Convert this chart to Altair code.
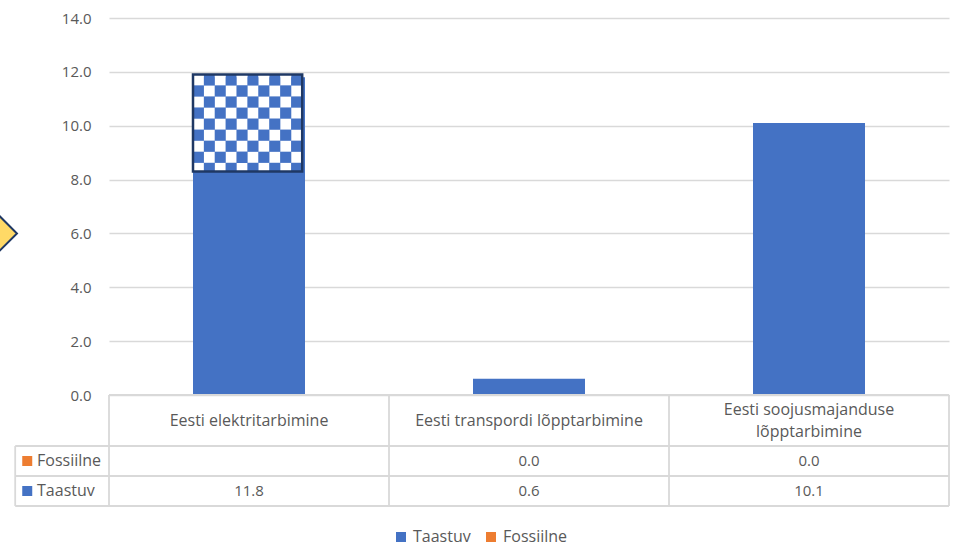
import altair as alt
import pandas as pd

# ---- data -------------------------------------------------------------
categories = [
    "Eesti elektritarbimine",
    "Eesti transpordi lõpptarbimine",
    "Eesti soojusmajanduse lõpptarbimine",
]
header_lines = [
    ["Eesti elektritarbimine"],
    ["Eesti transpordi lõpptarbimine"],
    ["Eesti soojusmajanduse", "lõpptarbimine"],
]
series = ["Taastuv", "Fossiilne"]
taastuv = [11.8, 0.6, 10.1]
fossiilne = [None, 0.0, 0.0]
y_ticks = [0, 2, 4, 6, 8, 10, 12, 14]

# checkered highlight on top of the electricity bar
pattern_low, pattern_high = 8.3, 11.9

# ---- style ------------------------------------------------------------
BLUE = "#4472C4"
ORANGE = "#ED7D31"
NAVY = "#1F3864"
GRID = "#D9D9D9"
TEXT = "#595959"
FONT = "Open Sans"
FS_TXT = 16     # words
FS_NUM = 15     # numbers

PLOT_W = 840          # three category columns
BAR_H = 377           # bar area height
TABLE_H = 111         # data table height
ROW_PX = 30           # one table row, pixels
HEADER_ROWS = 1.7     # header row height in table-row units
TABLE_ROWS = HEADER_ROWS + 2
LINE_STEP = 22 / ROW_PX   # spacing of wrapped header lines, row units

xs = alt.Scale(domain=[0, 3], nice=False, zero=False)
ys = alt.Scale(domain=[0, 14], range=[BAR_H, 0], nice=False, zero=False)
ts = alt.Scale(domain=[0, TABLE_ROWS], range=[BAR_H, BAR_H + TABLE_H], nice=False, zero=False)

# ---- bars -------------------------------------------------------------
bar_rows = []
for i, cat in enumerate(categories):
    t = taastuv[i]
    f = fossiilne[i]
    bar_rows.append(dict(kategooria=cat, sari="Taastuv", x0=i + 0.3, x1=i + 0.7, y0=0.0, y1=t))
    if f is not None:
        bar_rows.append(dict(kategooria=cat, sari="Fossiilne", x0=i + 0.3, x1=i + 0.7, y0=t, y1=t + f))
bars_df = pd.DataFrame(bar_rows)

bars = alt.Chart(bars_df).mark_rect().encode(
    x=alt.X("x0:Q", scale=xs, axis=None),
    x2="x1:Q",
    y=alt.Y(
        "y0:Q",
        scale=ys,
        axis=alt.Axis(
            values=y_ticks, format=".1f", title=None, grid=True, gridColor=GRID,
            gridWidth=1.5, domain=False, ticks=False, labelPadding=18,
            labelFont=FONT, labelFontSize=FS_NUM, labelColor=TEXT,
        ),
    ),
    y2="y1:Q",
    color=alt.Color(
        "sari:N",
        scale=alt.Scale(domain=series, range=[BLUE, ORANGE]),
        legend=alt.Legend(
            title=None, orient="none", direction="horizontal",
            legendX=284, legendY=511, symbolType="square", symbolSize=100,
            symbolStrokeWidth=0, labelFont=FONT, labelFontSize=FS_TXT,
            labelColor=TEXT, columnPadding=12, labelOffset=4, padding=0,
        ),
    ),
)

# checkered block: 10 columns across the bar, square cells
n_cols = 10
cell_w = 0.39 / n_cols
cell_h = 0.41
x_start = 0.3
cells = []
r = 0
top = pattern_high
while top > pattern_low + 1e-9:
    bottom = max(pattern_low, top - cell_h)
    for c in range(n_cols):
        cells.append(dict(
            x0=x_start + c * cell_w, x1=x_start + (c + 1) * cell_w,
            y0=bottom, y1=top, blue=(r + c) % 2 == 1,
        ))
    top = bottom
    r += 1
cells_df = pd.DataFrame(cells)

checker = alt.Chart(cells_df).mark_rect(strokeWidth=0).encode(
    x=alt.X("x0:Q", scale=xs, axis=None),
    x2="x1:Q",
    y=alt.Y("y0:Q", scale=ys),
    y2="y1:Q",
    fill=alt.Fill("blue:N", scale=alt.Scale(domain=[False, True], range=["#FFFFFF", BLUE]), legend=None),
)

outline_df = pd.DataFrame([dict(x0=x_start, x1=x_start + n_cols * cell_w, y0=pattern_low, y1=pattern_high)])
outline = alt.Chart(outline_df).mark_rect(fill=None, stroke=NAVY, strokeWidth=2.5).encode(
    x=alt.X("x0:Q", scale=xs, axis=None),
    x2="x1:Q",
    y=alt.Y("y0:Q", scale=ys),
    y2="y1:Q",
)

# callout marker at the left edge
marker_df = pd.DataFrame([dict(x=-0.418, y=6.0)])
marker = alt.Chart(marker_df).mark_point(
    shape="diamond", size=2500, filled=True, fill="#FFD966",
    stroke=NAVY, strokeWidth=2, opacity=1,
).encode(
    x=alt.X("x:Q", scale=xs, axis=None),
    y=alt.Y("y:Q", scale=ys),
)

top_layer = alt.layer(bars, checker, outline, marker)

# ---- data table -------------------------------------------------------
LEFT = -0.335   # left edge of the series-name column
r1, r2, r3 = HEADER_ROWS, HEADER_ROWS + 1, HEADER_ROWS + 2
lines = [
    dict(x1=0, x2=3, y1=0, y2=0),
    dict(x1=LEFT, x2=3, y1=r1, y2=r1),
    dict(x1=LEFT, x2=3, y1=r2, y2=r2),
    dict(x1=LEFT, x2=3, y1=r3, y2=r3),
    dict(x1=LEFT, x2=LEFT, y1=r1, y2=r3),
]
for k in range(4):
    lines.append(dict(x1=k, x2=k, y1=0, y2=r3))
lines_df = pd.DataFrame(lines)

grid_lines = alt.Chart(lines_df).mark_rule(color=GRID, strokeWidth=1.8).encode(
    x=alt.X("x1:Q", scale=xs, axis=None),
    x2="x2:Q",
    y=alt.Y("y1:Q", scale=ts, axis=None),
    y2="y2:Q",
)

head_text = []
for i, parts in enumerate(header_lines):
    n = len(parts)
    for j, part in enumerate(parts):
        head_text.append(dict(
            x=i + 0.5, y=HEADER_ROWS / 2 + (j - (n - 1) / 2) * LINE_STEP, t=part,
        ))
head_df = pd.DataFrame(head_text)

num_text = []
for i in range(3):
    f = fossiilne[i]
    num_text.append(dict(x=i + 0.5, y=r1 + 0.5, t="" if f is None else f"{f:.1f}"))
    num_text.append(dict(x=i + 0.5, y=r2 + 0.5, t=f"{taastuv[i]:.1f}"))
num_df = pd.DataFrame(num_text)


def table_labels(df, size):
    return alt.Chart(df).mark_text(
        font=FONT, fontSize=size, color=TEXT, align="center", baseline="middle",
    ).encode(
        x=alt.X("x:Q", scale=xs, axis=None),
        y=alt.Y("y:Q", scale=ts, axis=None),
        text="t:N",
    )


row_names = pd.DataFrame([
    dict(sari="Fossiilne", y=r1 + 0.5),
    dict(sari="Taastuv", y=r2 + 0.5),
])
row_keys = alt.Chart(row_names).mark_point(
    shape="square", size=100, filled=True, opacity=1, strokeWidth=0,
).encode(
    x=alt.value((LEFT + 0.043) * PLOT_W / 3),
    y=alt.Y("y:Q", scale=ts, axis=None),
    fill=alt.Fill("sari:N", scale=alt.Scale(domain=series, range=[BLUE, ORANGE]), legend=None),
)
row_labels = alt.Chart(row_names).mark_text(
    font=FONT, fontSize=FS_TXT, color=TEXT, align="left", baseline="middle",
).encode(
    x=alt.value((LEFT + 0.078) * PLOT_W / 3),
    y=alt.Y("y:Q", scale=ts, axis=None),
    text="sari:N",
)

table_layer = alt.layer(
    grid_lines, table_labels(head_df, FS_TXT), table_labels(num_df, FS_NUM),
    row_keys, row_labels,
)

chart = (
    alt.layer(top_layer, table_layer)
    .resolve_scale(y="independent", fill="independent")
    .properties(
        width=PLOT_W,
        height=BAR_H + TABLE_H,
        autosize=alt.AutoSizeParams(type="none"),
        padding={"left": 109, "top": 18, "right": 6, "bottom": 42},
    )
    .configure_view(stroke=None)
)

chart.save("out.html", embed_options={"renderer": "svg", "actions": False})
